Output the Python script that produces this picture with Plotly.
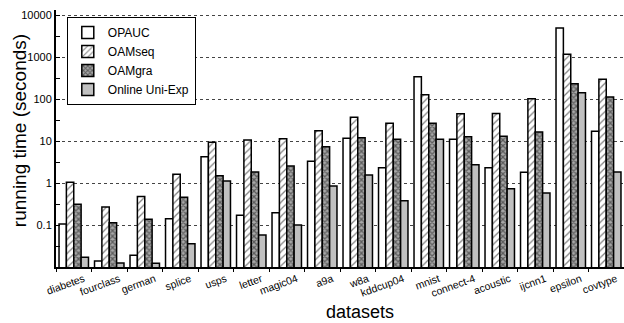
import plotly.graph_objects as go

datasets = ["diabetes", "fourclass", "german", "splice", "usps", "letter", "magic04",
            "a9a", "w8a", "kddcup04", "mnist", "connect-4", "acoustic", "ijcnn1",
            "epsilon", "covtype"]
opauc = [0.106, 0.0139, 0.019, 0.141, 4.2, 0.17, 0.196, 3.29, 11.6, 2.31, 340, 11.0, 2.31, 1.8, 4900, 17.0]
oamseq = [1.04, 0.27, 0.48, 1.61, 9.3, 10.6, 11.3, 17.6, 36.6, 26.4, 127, 44.7, 45.5, 101, 1160, 294]
oamgra = [0.31, 0.113, 0.137, 0.46, 1.49, 1.83, 2.54, 7.3, 12.0, 11.0, 26.4, 12.7, 13.0, 16.4, 231, 112]
uniexp = [0.017, 0.0124, 0.0122, 0.036, 1.12, 0.058, 0.10, 0.85, 1.55, 0.38, 11.0, 2.73, 0.73, 0.58, 141, 1.83]
ytick_vals = [0.1, 1, 10, 100, 1000, 10000]
ytick_text = ["0.1", "1", "10", "100", "1000", "10000"]

FONT = "Liberation Sans, Arial, Helvetica, sans-serif"
line = dict(color="black", width=1.5)

fig = go.Figure()
fig.add_trace(go.Bar(name="OPAUC", x=datasets, y=opauc,
                     marker=dict(color="white", line=line)))
fig.add_trace(go.Bar(name="OAMseq", x=datasets, y=oamseq,
                     marker=dict(color="white", line=line,
                                 pattern=dict(shape="/", fgcolor="black", bgcolor="white",
                                              size=5, solidity=0.25))))
fig.add_trace(go.Bar(name="OAMgra", x=datasets, y=oamgra,
                     marker=dict(color="#666666", line=line,
                                 pattern=dict(shape="x", fgcolor="#111111", bgcolor="#a8a8a8",
                                              size=4, solidity=0.55))))
fig.add_trace(go.Bar(name="Online Uni-Exp", x=datasets, y=uniexp,
                     marker=dict(color="#c0c0c0", line=line)))

minor_vals = [10 ** (k + 0.5) for k in range(-2, 4)]

fig.update_layout(
    width=624, height=323,
    margin=dict(l=56, r=0, t=10, b=56),
    plot_bgcolor="white", paper_bgcolor="white",
    barmode="group", bargap=0.17, bargroupgap=0,
    font=dict(family=FONT, size=11, color="black"),
    showlegend=True,
    legend=dict(x=0.019, y=0.973, xanchor="left", yanchor="top",
                bgcolor="white", bordercolor="black", borderwidth=1,
                font=dict(size=12, family=FONT), tracegroupgap=0),
    xaxis=dict(type="category", tickangle=-20, ticklabelshift=10,
               ticks="outside", ticklen=3, tickcolor="black", tickson="boundaries",
               showline=True, linecolor="black", linewidth=2, showgrid=False,
               tickfont=dict(size=10.5, family=FONT)),
    yaxis=dict(type="log", range=[-2, 4.12], tickvals=ytick_vals, ticktext=ytick_text,
               ticks="inside", ticklen=4, tickcolor="black",
               showline=True, linecolor="black", linewidth=2,
               showgrid=True, gridcolor="#444444", griddash="dot", gridwidth=1,
               zeroline=False, tickfont=dict(size=11, family=FONT),
               minor=dict(tickvals=minor_vals, ticks="inside", ticklen=4,
                          tickcolor="black", showgrid=False)),
    annotations=[
        dict(text="running time (seconds)", xref="paper", yref="paper",
             x=-0.065, y=0.529, textangle=-90, showarrow=False,
             xanchor="center", yanchor="middle", font=dict(size=19, family=FONT)),
        dict(text="datasets", xref="paper", yref="paper",
             x=0.535, y=-0.175, showarrow=False,
             xanchor="center", yanchor="middle", font=dict(size=18, family=FONT)),
    ],
)

fig.write_html("out.html", config={"displayModeBar": False},
               post_script="document.body.style.margin='0px';")
